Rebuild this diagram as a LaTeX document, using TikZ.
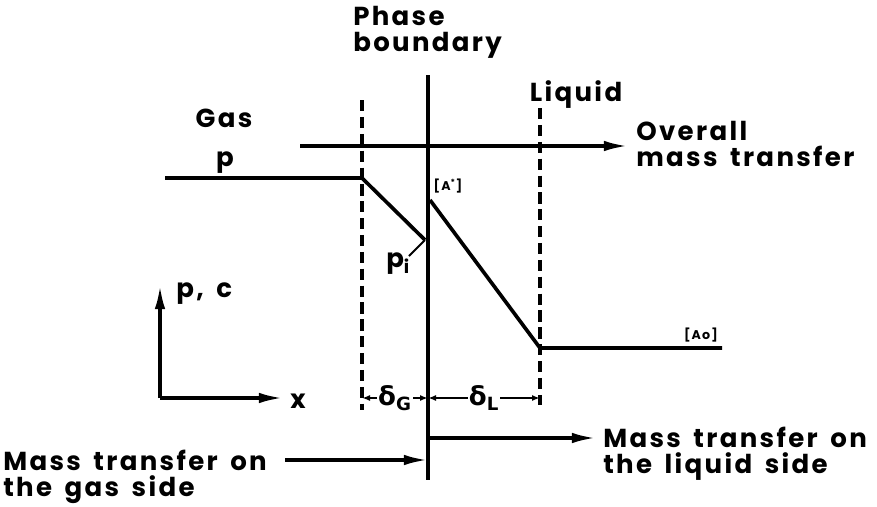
\documentclass[tikz,border=0pt]{standalone}
\usepackage{fontspec}
\setmainfont{Poppins}[LetterSpace=9, WordSpace=1.6]
\newfontfamily\greek{DejaVu Sans}
\usetikzlibrary{arrows.meta,positioning}

\begin{document}
\begin{tikzpicture}[x=0.025cm, y=-0.025cm,
    profile/.style={line width=2.6pt},
    film/.style={line width=2.4pt, dash pattern=on 8pt off 4pt},
    arrow/.style={line width=2.4pt, -{Latex[length=6mm,width=2.6mm]}},
    dim/.style={line width=1.5pt, {Latex[length=2mm]}-{Latex[length=2mm]}},
    label/.style={font=\fontsize{18.5}{18.5}\selectfont\bfseries, inner sep=0pt, align=left},
    tag/.style={font=\fontsize{9}{10}\selectfont\bfseries, inner sep=0pt}
  ]
  \useasboundingbox (0,0) rectangle (877,507);

  % phase boundary and film edges
  \coordinate (bt) at (428,75);
  \coordinate (bb) at (428,480);
  \coordinate (gt) at (362,100);
  \coordinate (gb) at (362,410);
  \coordinate (lt) at (540,108);
  \coordinate (lb) at (540,405);
  \draw[line width=3.4pt] (bt) -- (bb);
  \draw[film] (gt) -- (gb);
  \draw[film] (lt) -- (lb);

  % labels at the top
  \node[label, anchor=north west] (phase) at (353,6) {Phase\\boundary};
  \node[label] (gas) at (224,118) {Gas};
  \node[label] (liquid) at (576,95) {Liquid};
  \node[label, anchor=north west] (overall) at (636,121) {Overall\\mass transfer};
  \coordinate (ov) at (300,146);
  \draw[arrow] (ov) -- (628,146);

  % concentration profiles
  \coordinate (p0) at (165,178);
  \coordinate (pg) at (362,178);
  \coordinate (pi) at (425,240);
  \draw[profile] (p0) -- (pg) -- (pi);
  \node[label] (plab) at (225,163) {p};
  \node[label, anchor=north west] (pilab) at (386,252) {p\textsubscript{i}};
  \draw[line width=1.4pt] (409,256) -- (pi);

  \coordinate (as) at (430,200);
  \coordinate (ao) at (540,348);
  \coordinate (ae) at (722,348);
  \draw[profile] (as) -- (ao) -- (ae);
  \node[tag] (astar) at (448,186) {[A\textsuperscript{*}]};
  \node[tag] (aozero) at (701,335) {[Ao]};

  % axes
  \coordinate (orig) at (160,398);
  \draw[arrow] (orig) -- (160,285);
  \draw[arrow] (orig) -- (283,398);
  \node[label, anchor=west] (pc) at (176,294) {p, c};
  \node[label] (xlab) at (298,401) {x};

  % film thicknesses
  \coordinate (dg) at (362,398);
  \coordinate (db) at (428,398);
  \coordinate (dl) at (540,398);
  \draw[dim] (dg) -- node[label, fill=white, inner sep=1pt] (deltag) {\greek δ\textsubscript{G}} (db);
  \draw[dim] (db) -- node[label, fill=white, inner sep=1pt] (deltal) {\greek δ\textsubscript{L}} (dl);

  % transfer on each side
  \coordinate (ls) at (428,438);
  \draw[arrow] (ls) -- (596,438);
  \node[label, anchor=north west] (liqside) at (603,427) {Mass transfer on\\the liquid side};
  \node[label, anchor=north west] (gasside) at (3,450) {Mass transfer on\\the gas side};
  \coordinate (gs) at (428,460);
  \draw[arrow] (285,460) -- (gs);
\end{tikzpicture}
\end{document}
